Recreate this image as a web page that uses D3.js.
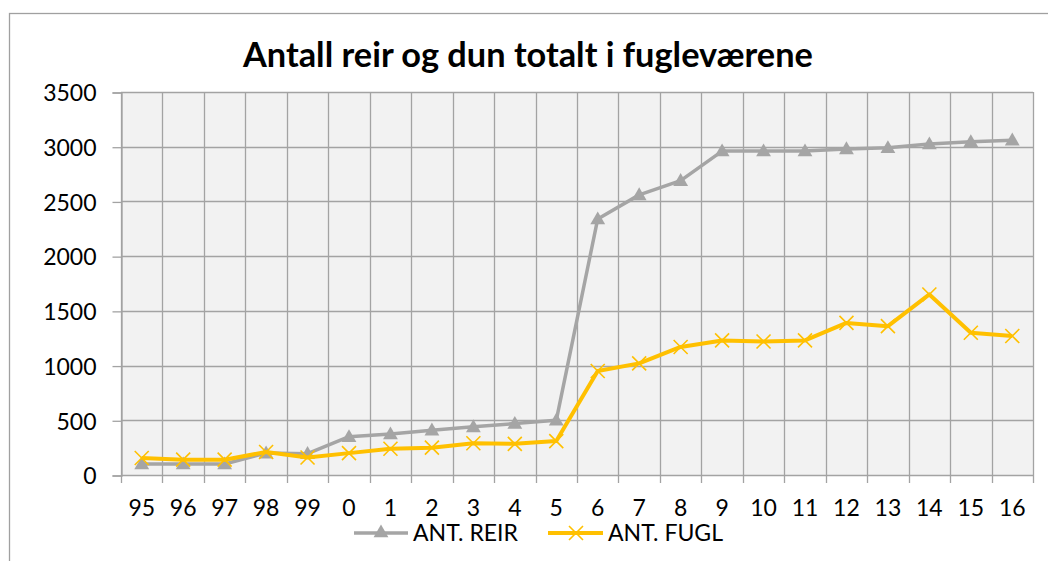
<!DOCTYPE html>
<html><head><meta charset="utf-8">
<script src="https://cdn.jsdelivr.net/npm/d3@7"></script>
<style>body{margin:0;background:#fff}svg{display:block}text{font-family:Lato,"Liberation Sans",sans-serif;fill:#000}</style>
</head><body>
<svg id="c" width="1048" height="561"></svg>
<script>
const categories = ["95","96","97","98","99","0","1","2","3","4","5","6","7","8","9","10","11","12","13","14","15","16"];
const antReir = [100,100,100,200,195,350,375,410,440,470,500,2340,2560,2690,2960,2960,2960,2980,2990,3025,3045,3060];
const antFugl = [155,140,140,210,160,200,240,250,290,285,310,950,1020,1170,1230,1220,1230,1390,1360,1650,1300,1270];
const yTicks = [0,500,1000,1500,2000,2500,3000,3500];
const title = "Antall reir og dun totalt i fugleværene";
const seriesNames = ["ANT. REIR","ANT. FUGL"];

const svg = d3.select("#c");
const L=121, R=1033, T=92, B=475;
const gridC="#a3a3a3", grayC="#a5a5a5", yelC="#ffc000";
const fs = 23;

// outer border
svg.append("rect").attr("x",9.5).attr("y",13.5).attr("width",1100).attr("height",600)
  .attr("fill","#fff").attr("stroke","#a0a0a0").attr("stroke-width",1.3);

const x = d3.scaleBand().domain(categories).range([L,R]);
const y = d3.scaleLinear().domain([0,3500]).range([B,T]);

// plot background
svg.append("rect").attr("x",L).attr("y",y(3500)).attr("width",R-L).attr("height",B-y(3500)).attr("fill","#f2f2f2");

// horizontal gridlines
svg.append("g").selectAll("line").data(yTicks).join("line")
  .attr("x1",L).attr("x2",R).attr("y1",d=>Math.round(y(d))+0.5).attr("y2",d=>Math.round(y(d))+0.5)
  .attr("stroke",gridC).attr("stroke-width",1.3);
// vertical gridlines at category boundaries
const bounds = categories.map(c=>x(c)).concat([R]);
svg.append("g").selectAll("line").data(bounds).join("line")
  .attr("x1",d=>Math.round(d)+0.5).attr("x2",d=>Math.round(d)+0.5).attr("y1",y(3500)).attr("y2",B+8)
  .attr("stroke",gridC).attr("stroke-width",1.3);

// y axis
const yAx = d3.axisLeft(y).tickValues(yTicks).tickFormat(d3.format("d")).tickSize(9).tickPadding(8);
const gy = svg.append("g").attr("transform",`translate(${L+0.5},0.5)`).call(yAx);
gy.select(".domain").attr("stroke",gridC).attr("stroke-width",1.3);
gy.selectAll(".tick line").attr("stroke",gridC).attr("stroke-width",1.3);
gy.selectAll(".tick text").attr("font-size",fs).attr("font-family","Lato").attr("fill","#000").attr("dy","0.36em").attr("x",-25);

// x axis labels
const xAx = d3.axisBottom(x).tickSize(0).tickPadding(0);
const gx = svg.append("g").attr("transform",`translate(0,${B})`).call(xAx);
gx.select(".domain").remove();
gx.selectAll(".tick text").attr("font-size",fs).attr("font-family","Lato").attr("fill","#000").attr("dy",0).attr("y",41);

// lines
const line = d3.line().x((d,i)=>x(categories[i])+x.bandwidth()/2).y(d=>y(d));
svg.append("path").datum(antReir).attr("d",line).attr("fill","none").attr("stroke",grayC).attr("stroke-width",3.5).attr("stroke-linejoin","round");
const tri = d3.symbol().type(d3.symbolTriangle).size(95);
svg.append("g").selectAll("path").data(antReir).join("path")
  .attr("transform",(d,i)=>`translate(${x(categories[i])+x.bandwidth()/2},${y(d)+1})`)
  .attr("d",tri()).attr("fill",grayC);

svg.append("path").datum(antFugl).attr("d",line).attr("fill","none").attr("stroke",yelC).attr("stroke-width",4).attr("stroke-linejoin","round");
const s=7;
const cross = `M${-s},${-s}L${s},${s}M${-s},${s}L${s},${-s}`;
svg.append("g").selectAll("path").data(antFugl).join("path")
  .attr("transform",(d,i)=>`translate(${x(categories[i])+x.bandwidth()/2},${y(d)})`)
  .attr("d",cross).attr("stroke",yelC).attr("stroke-width",1.6).attr("fill","none");

// title
const tt = svg.append("text").attr("x",243).attr("y",67).attr("font-weight","bold").attr("font-size",30).text(title);
const w = tt.node().getComputedTextLength();
tt.attr("font-size",30*570/w);

// legend
const lg = svg.append("g");
const ly = 533;
lg.append("line").attr("x1",354).attr("x2",408).attr("y1",ly).attr("y2",ly).attr("stroke",grayC).attr("stroke-width",3.5);
lg.append("path").attr("transform",`translate(381,${ly})`).attr("d",tri()).attr("fill",grayC);
lg.append("text").attr("x",413).attr("y",ly).attr("dy","0.36em").attr("font-size",fs).text(seriesNames[0]);
lg.append("line").attr("x1",548).attr("x2",603).attr("y1",ly).attr("y2",ly).attr("stroke",yelC).attr("stroke-width",4);
lg.append("path").attr("transform",`translate(576,${ly})`).attr("d",cross).attr("stroke",yelC).attr("stroke-width",1.6).attr("fill","none");
lg.append("text").attr("x",608).attr("y",ly).attr("dy","0.36em").attr("font-size",fs).text(seriesNames[1]);
</script>
</body></html>
